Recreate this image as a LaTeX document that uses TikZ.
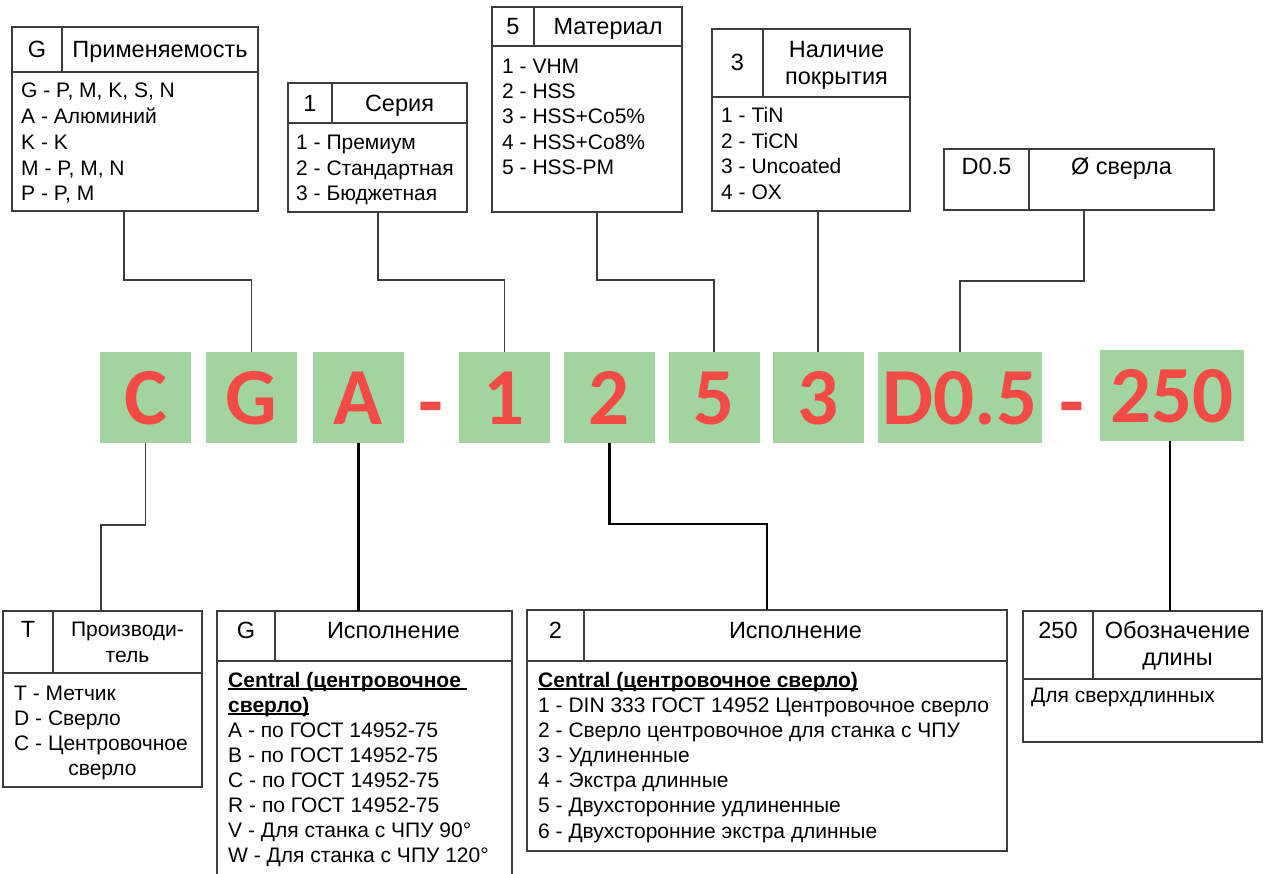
\documentclass[tikz,border=0pt]{standalone}
\usepackage{fontspec}
\setmainfont{Liberation Sans}
\newfontfamily\calib{Carlito}
\definecolor{gfill}{RGB}{162,212,160}
\definecolor{rtext}{RGB}{242,75,70}
\definecolor{lgray}{RGB}{60,60,60}
\newcommand\ulx[1]{\setbox0=\hbox{#1}\rlap{\rule[-2.6pt]{\wd0}{1.4pt}}\box0}
\newcommand\blines[5]{\foreach \t [count=\i] in {#5} {\node[txt, anchor=base west] (#1-\i) at (#2, {#3+(\i-1)*#4}) {\t};}}
\newcommand\tblbox[5]{\node[tbl, minimum width={#4pt-#2pt}, minimum height={#5pt-#3pt}, anchor=north west] (#1) at (#2,#3) {};}
\begin{document}
\begin{tikzpicture}[x=1pt, y=-1pt,
  tbl/.style={draw=lgray, line width=1.2pt, inner sep=0pt, outer sep=0pt},
  inl/.style={draw=lgray, line width=1.2pt},
  conn/.style={draw=lgray, line width=1.2pt},
  bconn/.style={draw=black, line width=2.6pt},
  txt/.style={font=\fontsize{21}{25.5}\selectfont, inner sep=0pt},
  hdr/.style={font=\fontsize{23.5}{28}\selectfont, inner sep=0pt},
  gbox/.style={fill=gfill, inner sep=0pt, minimum height=91pt, text=rtext,
    font=\calib\bfseries\fontsize{81}{86}\selectfont, text height=54pt, text depth=0pt},
  gdash/.style={inner sep=0pt, text=rtext, font=\calib\bfseries\fontsize{81}{86}\selectfont}]
\clip (0,0) rectangle (1264,874);
\fill[white] (0,0) rectangle (1264,874);

% ---------- green code boxes ----------
\node[gbox, minimum width=91pt] (gC) at (145.5,397.5) {C};
\node[gbox, minimum width=91pt] (gG) at (251.5,397.5) {G};
\node[gbox, minimum width=91pt] (gA) at (358.5,397.5) {A};
\node[gdash, anchor=base] (d1) at (431,430) {-};
\node[gbox, minimum width=91pt] (g1) at (504.5,397.5) {1};
\node[gbox, minimum width=91pt] (g2) at (609.5,397.5) {2};
\node[gbox, minimum width=91pt] (g5) at (714,397.5) {5};
\node[gbox, minimum width=91pt] (g3) at (818,397.5) {3};
\node[gbox, minimum width=164pt] (gD) at (960,397.5) {D0.5};
\node[gdash, anchor=base] (d2) at (1071.5,430) {-};
\node[gbox, minimum width=144pt] (gL) at (1172,395.5) {250};

% ---------- top tables ----------
% 1: Применяемость
\tblbox{t1}{12}{27}{258}{211}
\draw[inl] (12,72) -- (258,72);
\draw[inl] (62,27) -- (62,72);
\node[hdr, anchor=base] (t1-a) at (37,57.5) {G};
\node[hdr, anchor=base] (t1-b) at (160,57.5) {Применяемость};
\blines{t1l}{21}{98}{25.7}{{G - P, M, K, S, N},{A - Алюминий},{K - K},{M - P, M, N},{P - P, M}}

% 2: Серия
\tblbox{t2}{288}{83}{467}{212}
\draw[inl] (288,123) -- (467,123);
\draw[inl] (332,83) -- (332,123);
\node[hdr, anchor=base] (t2-a) at (310,112) {1};
\node[hdr, anchor=base] (t2-b) at (399.5,112) {Серия};
\blines{t2l}{296}{150}{25.5}{{1 - Премиум},{2 - Стандартная},{3 - Бюджетная}}

% 3: Материал
\tblbox{t3}{492}{7}{682}{212}
\draw[inl] (492,46) -- (682,46);
\draw[inl] (534,7) -- (534,46);
\node[hdr, anchor=base] (t3-a) at (513,35) {5};
\node[hdr, anchor=base] (t3-b) at (608,35) {Материал};
\blines{t3l}{502}{73.5}{25.25}{{1 - VHM},{2 - HSS},{3 - HSS+Co5\%},{4 - HSS+Co8\%},{5 - HSS-PM}}

% 4: Наличие покрытия
\tblbox{t4}{712}{29}{910}{211}
\draw[inl] (712,97) -- (910,97);
\draw[inl] (763,29) -- (763,97);
\node[hdr, anchor=base] (t4-a) at (737.5,71) {3};
\node[hdr, anchor=base] (t4-b) at (836.5,57.5) {Наличие};
\node[hdr, anchor=base] (t4-c) at (836.5,84.5) {покрытия};
\blines{t4l}{721}{123}{25.5}{{1 - TiN},{2 - TiCN},{3 - Uncoated},{4 - OX}}

% 5: Ø сверла
\tblbox{t5}{944}{149}{1214}{210}
\draw[inl] (1029,149) -- (1029,210);
\node[hdr, anchor=base] (t5-a) at (986.5,175) {D0.5};
\node[hdr, anchor=base] (t5-b) at (1121.5,175) {Ø сверла};

% ---------- bottom tables ----------
% 6: Производитель
\tblbox{t6}{3}{611}{202}{787}
\draw[inl] (3,673) -- (202,673);
\draw[inl] (53,611) -- (53,673);
\node[hdr, anchor=base] (t6-a) at (28,637) {T};
\node[txt, anchor=base] (t6-b) at (127.5,636) {Производи-};
\node[txt, anchor=base] (t6-c) at (127.5,662) {тель};
\blines{t6l}{14}{700}{25}{{T - Метчик},{D - Сверло},{C - Центровочное}}
\node[txt, anchor=base] (t6-d) at (102.5,775) {сверло};

% 7: G Исполнение
\tblbox{t7}{217}{611}{512}{900}
\draw[inl] (217,661) -- (512,661);
\draw[inl] (275,611) -- (275,661);
\node[hdr, anchor=base] (t7-a) at (246,638.5) {G};
\node[hdr, anchor=base] (t7-b) at (393.5,638.5) {Исполнение};
\node[txt, anchor=base west] (t7-u1) at (228,687) {\ulx{\bfseries Central (центровочное\ }};
\node[txt, anchor=base west] (t7-u2) at (228,712) {\ulx{\bfseries сверло)}};
\blines{t7l}{228}{737}{25}{{A - по ГОСТ 14952-75},{B - по ГОСТ 14952-75},{C - по ГОСТ 14952-75},{R - по ГОСТ 14952-75},{V - Для станка с ЧПУ 90°},{W - Для станка с ЧПУ 120°}}

% 8: 2 Исполнение
\tblbox{t8}{527}{610}{1007}{851}
\draw[inl] (527,661) -- (1007,661);
\draw[inl] (584,610) -- (584,661);
\node[hdr, anchor=base] (t8-a) at (555.5,638.5) {2};
\node[hdr, anchor=base] (t8-b) at (795.5,638.5) {Исполнение};
\node[txt, anchor=base west] (t8-u1) at (538,687) {\ulx{\bfseries Central (центровочное сверло)}};
\blines{t8l}{538}{712}{25.2}{{1 - DIN 333 ГОСТ 14952 Центровочное сверло},{2 - Сверло центровочное для станка с ЧПУ},{3 - Удлиненные},{4 - Экстра длинные},{5 - Двухсторонние удлиненные},{6 - Двухсторонние экстра длинные}}

% 9: 250 Обозначение длины
\tblbox{t9}{1023}{611}{1262}{742}
\draw[inl] (1023,679) -- (1262,679);
\draw[inl] (1093,611) -- (1093,679);
\node[hdr, anchor=base] (t9-a) at (1058,638.5) {250};
\node[hdr, anchor=base] (t9-b) at (1177.5,638.5) {Обозначение};
\node[hdr, anchor=base] (t9-c) at (1177.5,665) {длины};
\node[txt, anchor=base west] (t9-d) at (1031,702) {Для сверхдлинных};

% ---------- connectors ----------
\draw[conn] ([xshift=-11pt]t1.south) |- (gG.north |- 0,280) -- (gG.north);
\draw[conn] ([xshift=0.5pt]t2.south) |- (g1.north |- 0,280) -- (g1.north);
\draw[conn] ([xshift=10pt]t3.south) |- (g5.north |- 0,280) -- (g5.north);
\draw[conn] (t4.south -| g3.north) -- (g3.north);
\draw[conn] ([xshift=5pt]t5.south) |- (gD.north |- 0,281) -- (gD.north);

\draw[conn] (gC.south) -- (gC.south |- 0,525) -| ([xshift=-1.5pt]t6.north);
\draw[bconn] (gA.south) -- (gA.south |- t7.north);
\draw[bconn] (g2.south) -- (g2.south |- 0,524) -| (t8.north);
\draw[bconn] ([xshift=-2pt]gL.south) -- ([xshift=-2pt]gL.south |- t9.north);
\end{tikzpicture}
\end{document}
